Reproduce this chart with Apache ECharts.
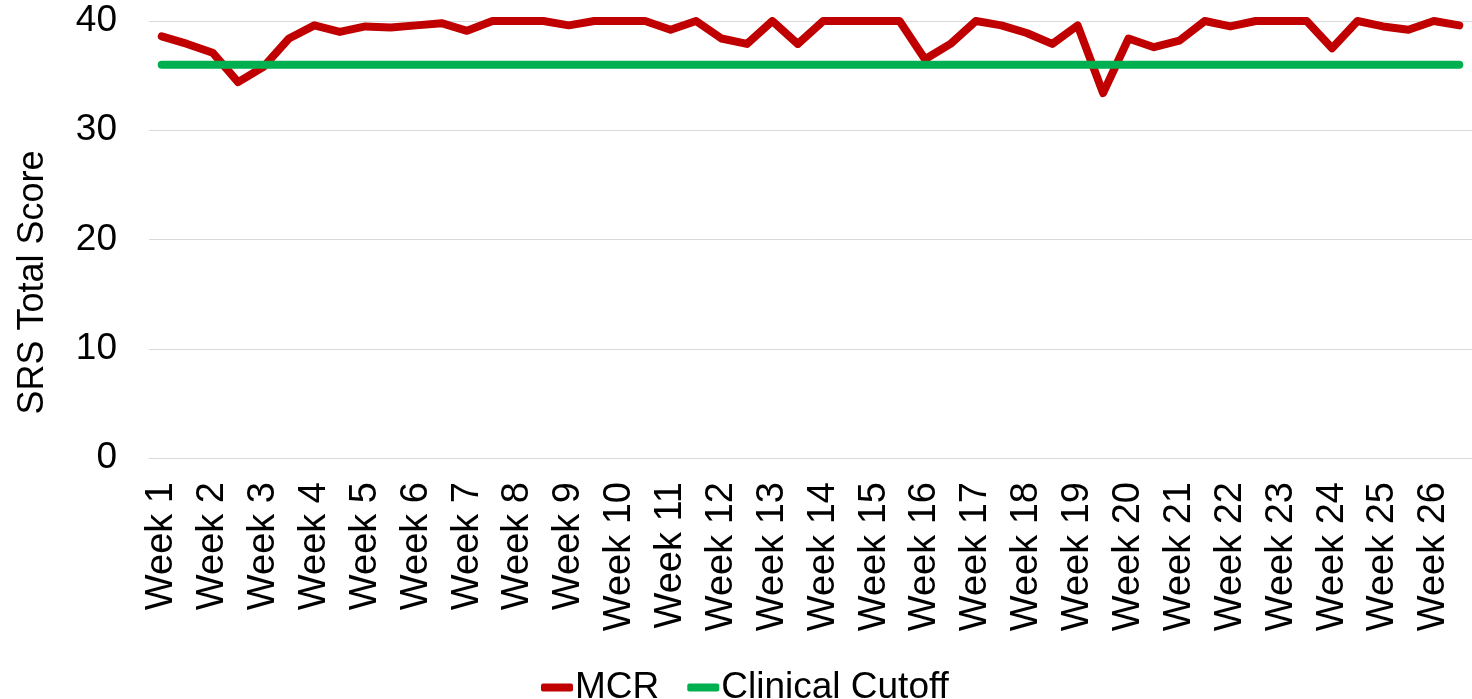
<!DOCTYPE html>
<html>
<head>
<meta charset="utf-8">
<script src="https://cdn.jsdelivr.net/npm/echarts@6/dist/echarts.min.js"></script>
<style>
html,body{margin:0;padding:0;background:#fff;}
#chart{width:1472px;height:699px;}
</style>
</head>
<body>
<div id="chart"></div>
<script>
const weekLabels = ["Week 1","Week 2","Week 3","Week 4","Week 5","Week 6","Week 7","Week 8","Week 9","Week 10","Week 11","Week 12","Week 13","Week 14","Week 15","Week 16","Week 17","Week 18","Week 19","Week 20","Week 21","Week 22","Week 23","Week 24","Week 25","Week 26"];
// two observations per week
const categories = weekLabels.flatMap(w => [w, w]);
const mcr = [38.6,37.9,37.1,34.4,35.8,38.4,39.6,39.0,39.5,39.4,39.6,39.8,39.1,40,40,40,39.6,40,40,40,39.2,40,38.4,37.9,40,37.9,40,40,40,40,36.5,37.9,40,39.6,38.9,37.9,39.6,33.4,38.4,37.6,38.2,40,39.5,40,40,40,37.5,40,39.5,39.2,40,39.6];
const cutoff = [36,36,36,36,36,36,36,36,36,36,36,36,36,36,36,36,36,36,36,36,36,36,36,36,36,36,36,36,36,36,36,36,36,36,36,36,36,36,36,36,36,36,36,36,36,36,36,36,36,36,36,36];
const yTicks = [0,10,20,30,40];

const chart = echarts.init(document.getElementById('chart'));
const font = 'Liberation Sans, Arial, sans-serif';
chart.setOption({
  animation:false,
  backgroundColor:'#fff',
  grid:{left:149,right:-7,top:21,bottom:241,containLabel:false},
  legend:{
    left:536, top:664,
    itemWidth:32, itemHeight:8, itemGap:28,
    icon:'roundRect',
    textStyle:{fontFamily:font,fontSize:37,color:'#000',padding:[0,0,0,-3]},
    data:['MCR','Clinical Cutoff']
  },
  xAxis:{
    type:'category',
    data:categories,
    boundaryGap:true,
    axisLine:{show:true,lineStyle:{color:'#d9d9d9',width:1}},
    axisTick:{show:false},
    axisLabel:{interval:1,rotate:90,margin:24,padding:[8,0,0,0],fontFamily:font,fontSize:38,color:'#000'}
  },
  yAxis:{
    type:'value',
    min:yTicks[0], max:yTicks[yTicks.length-1], interval:10,
    name:'SRS Total Score',
    nameLocation:'middle',
    nameGap:98,
    nameTextStyle:{fontFamily:font,fontSize:36,color:'#000',padding:[0,86,0,0]},
    axisLine:{show:false},
    axisTick:{show:false},
    splitLine:{show:true,lineStyle:{color:'#d9d9d9',width:1}},
    axisLabel:{margin:32,fontFamily:font,fontSize:37,color:'#000'}
  },
  series:[
    {name:'MCR',type:'line',data:mcr,showSymbol:false,symbol:'none',
     lineStyle:{color:'#c00000',width:8,cap:'round',join:'round'},itemStyle:{color:'#c00000'}},
    {name:'Clinical Cutoff',type:'line',data:cutoff,showSymbol:false,symbol:'none',
     lineStyle:{color:'#00b050',width:8,cap:'round',join:'round'},itemStyle:{color:'#00b050'}}
  ]
});
</script>
</body>
</html>
